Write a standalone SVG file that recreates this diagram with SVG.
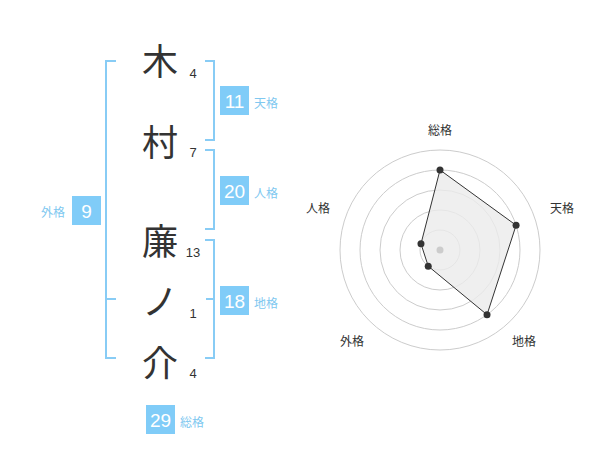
<svg xmlns="http://www.w3.org/2000/svg" width="600" height="470" viewBox="0 0 600 470">
<style>
.ch{font-family:"Noto Sans CJK JP","Noto Sans CJK SC",sans-serif;font-size:36px;fill:#333;text-anchor:middle}
.sn{font-family:"Liberation Sans",Arial,sans-serif;font-size:13px;fill:#333;text-anchor:middle}
.br{fill:none;stroke:#88ccf5;stroke-width:2}
.bx{fill:#80ccf8}
.bn{font-family:"Liberation Sans",Arial,sans-serif;font-size:19px;fill:#fff;text-anchor:middle}
.bl{font-family:"Noto Sans CJK JP",sans-serif;font-size:12px;fill:#80c8f0}
.ring{fill:none;stroke:#ccc;stroke-width:1}
.rl{font-family:"Noto Sans CJK JP",sans-serif;font-size:12px;fill:#333;text-anchor:middle}
.dot{fill:#333}
</style>
<rect width="600" height="470" fill="#fff"/>
<g id="chars">
<text class="ch" x="160" y="75">木</text>
<text class="ch" x="160" y="156">村</text>
<text class="ch" x="160" y="255">廉</text>
<text class="ch" x="160" y="315">ノ</text>
<text class="ch" x="160" y="377">介</text>
</g>
<g id="strokes">
<text class="sn" x="193" y="78">4</text>
<text class="sn" x="193" y="157">7</text>
<text class="sn" x="193" y="257">13</text>
<text class="sn" x="193" y="318">1</text>
<text class="sn" x="193" y="378">4</text>
</g>
<g id="connectors">
<path class="br" d="M116,61 H106 V358 H116 M106,299 H116"/>
<path class="br" d="M205,61 H214 V140 H205"/>
<path class="br" d="M205,150 H214 V229 H205"/>
<path class="br" d="M205,240 H214 V358 H205 M206,299 H214"/>
</g>
<g id="tenkaku">
<rect class="bx" x="220" y="86" width="29" height="29"/>
<text class="bn" x="234.5" y="107.5">11</text>
<text class="bl" x="254" y="108">天格</text>
</g>
<g id="jinkaku">
<rect class="bx" x="220" y="176" width="29" height="29"/>
<text class="bn" x="234.5" y="197.5">20</text>
<text class="bl" x="254" y="198">人格</text>
</g>
<g id="gaikaku">
<rect class="bx" x="72" y="196" width="29" height="29"/>
<text class="bn" x="86.5" y="217.5">9</text>
<text class="bl" x="41" y="217">外格</text>
</g>
<g id="chikaku">
<rect class="bx" x="220" y="286" width="29" height="29"/>
<text class="bn" x="234.5" y="307.5">18</text>
<text class="bl" x="254" y="308">地格</text>
</g>
<g id="soukaku">
<rect class="bx" x="146" y="405" width="29" height="29"/>
<text class="bn" x="160.5" y="426.5">29</text>
<text class="bl" x="180" y="427">総格</text>
</g>
<g id="radar">
<circle class="ring" cx="440" cy="250" r="20"/>
<circle class="ring" cx="440" cy="250" r="40"/>
<circle class="ring" cx="440" cy="250" r="60"/>
<circle class="ring" cx="440" cy="250" r="80"/>
<circle class="ring" cx="440" cy="250" r="100"/>
<polygon points="440,170 516.08,225.28 487.02,314.72 428.24,266.18 420.98,243.82" fill="#ebebeb" fill-opacity="0.8" stroke="#333" stroke-width="1"/>
<circle cx="440" cy="250" r="3.5" fill="#ccc"/>
<circle class="dot" cx="440" cy="170" r="3.5"/>
<circle class="dot" cx="516.08" cy="225.28" r="3.5"/>
<circle class="dot" cx="487.02" cy="314.72" r="3.5"/>
<circle class="dot" cx="428.24" cy="266.18" r="3.5"/>
<circle class="dot" cx="420.98" cy="243.82" r="3.5"/>
<text class="rl" x="440" y="135">総格</text>
<text class="rl" x="562" y="213">天格</text>
<text class="rl" x="524" y="346">地格</text>
<text class="rl" x="352" y="346">外格</text>
<text class="rl" x="318" y="213">人格</text>
</g>
</svg>
